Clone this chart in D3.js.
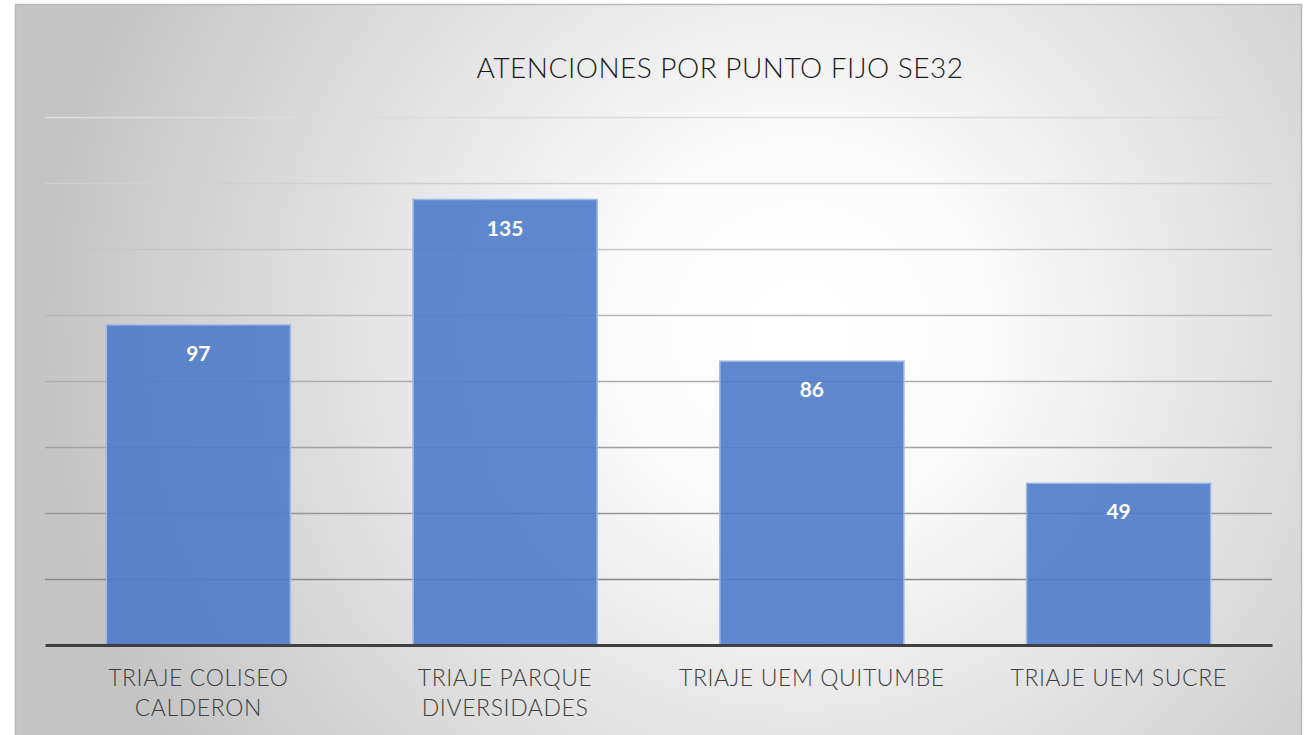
<!DOCTYPE html>
<html>
<head>
<meta charset="utf-8">
<script src="https://cdn.jsdelivr.net/npm/d3@7"></script>
<style>
  body { margin: 0; background: #ffffff; }
  text { font-family: "Century Gothic", "URW Gothic", Lato, sans-serif; }
</style>
</head>
<body>
<script>

// data
var categories = [["TRIAJE COLISEO", "CALDERON"], ["TRIAJE PARQUE", "DIVERSIDADES"], ["TRIAJE UEM QUITUMBE"], ["TRIAJE UEM SUCRE"]];
var values = [97, 135, 86, 49];
var gridTicks = [0, 20, 40, 60, 80, 100, 120, 140, 160];
var title = "ATENCIONES POR PUNTO FIJO SE32";

var W = 1307, H = 735;

var svg = d3.select("body")
            .append("svg")
            .attr("width", W)
            .attr("height", H);

// background gradient, white in the middle, grey at the edges
var defs = svg.append("defs");
var grad = defs.append("radialGradient")
               .attr("id", "bg")
               .attr("gradientUnits", "userSpaceOnUse")
               .attr("cx", 800).attr("cy", 330).attr("r", 760);
grad.append("stop").attr("offset", "0%").attr("stop-color", "#ffffff");
grad.append("stop").attr("offset", "25%").attr("stop-color", "#fbfbfb");
grad.append("stop").attr("offset", "100%").attr("stop-color", "#c4c4c4");

// chart panel
svg.append("rect")
   .attr("x", 15.5).attr("y", 4.5)
   .attr("width", 1286).attr("height", 740)
   .attr("fill", "url(#bg)")
   .attr("stroke", "#b9b9b9")
   .attr("stroke-width", 1.5);

// plot area
var plot = {left: 45, right: 1272, top: 117, bottom: 645};

var x = d3.scaleBand()
          .domain(d3.range(values.length))
          .range([plot.left, plot.right])
          .paddingInner(0.4)
          .paddingOuter(0.2);

var y = d3.scaleLinear()
          .domain([0, 160])
          .range([plot.bottom, plot.top]);

// gridlines get darker toward the bottom
var gridColor = d3.scaleLinear()
                  .domain([160, 20])
                  .range(["#dcdcdc", "#8a8a8a"]);

svg.append("g")
   .selectAll("line")
   .data(gridTicks.filter(function(d){ return d > 0; }))
   .enter()
   .append("line")
   .attr("x1", plot.left).attr("x2", plot.right)
   .attr("y1", function(d){ return Math.round(y(d)) + 0.5; })
   .attr("y2", function(d){ return Math.round(y(d)) + 0.5; })
   .attr("stroke", function(d){ return gridColor(d); })
   .attr("stroke-width", 1.5);

// bars
svg.append("g")
   .selectAll("rect")
   .data(values)
   .enter()
   .append("rect")
   .attr("x", function(d, i){ return x(i); })
   .attr("y", function(d){ return y(d); })
   .attr("width", x.bandwidth())
   .attr("height", function(d){ return y(0) - y(d); })
   .attr("fill", "#4f7bc9")
   .attr("fill-opacity", 0.9)
   .attr("stroke", "#9db8e8")
   .attr("stroke-width", 1.5);

// value labels inside bars
svg.append("g")
   .selectAll("text")
   .data(values)
   .enter()
   .append("text")
   .attr("x", function(d, i){ return x(i) + x.bandwidth() / 2; })
   .attr("y", function(d){ return y(d) + 36; })
   .attr("text-anchor", "middle")
   .attr("fill", "#ffffff")
   .style("font-size", "21px")
   .style("font-weight", "bold")
   .text(function(d){ return d; });

// baseline axis
var xAxis = svg.append("g")
               .attr("transform", "translate(0," + y(0) + ")")
               .call(d3.axisBottom(x).tickSize(0).tickFormat(""));
xAxis.select(".domain")
     .attr("stroke", "#404040")
     .attr("stroke-width", 3);

// category labels, one or two lines
var labels = svg.append("g")
                .selectAll("text")
                .data(categories)
                .enter()
                .append("text")
                .attr("text-anchor", "middle")
                .attr("fill", "#404040")
                .style("font-size", "23px")
                .style("font-weight", 300)
                .style("letter-spacing", "0.6px");
labels.each(function(d, i){
  var t = d3.select(this);
  d.forEach(function(line, j){
    t.append("tspan")
     .attr("x", x(i) + x.bandwidth() / 2)
     .attr("y", 686 + j * 30)
     .text(line);
  });
});

// title
svg.append("text")
   .attr("x", 720)
   .attr("y", 78)
   .attr("text-anchor", "middle")
   .attr("fill", "#1a1a1a")
   .style("font-size", "28px")
   .style("font-weight", 300)
   .style("letter-spacing", "0.5px")
   .text(title);

</script>
</body>
</html>
